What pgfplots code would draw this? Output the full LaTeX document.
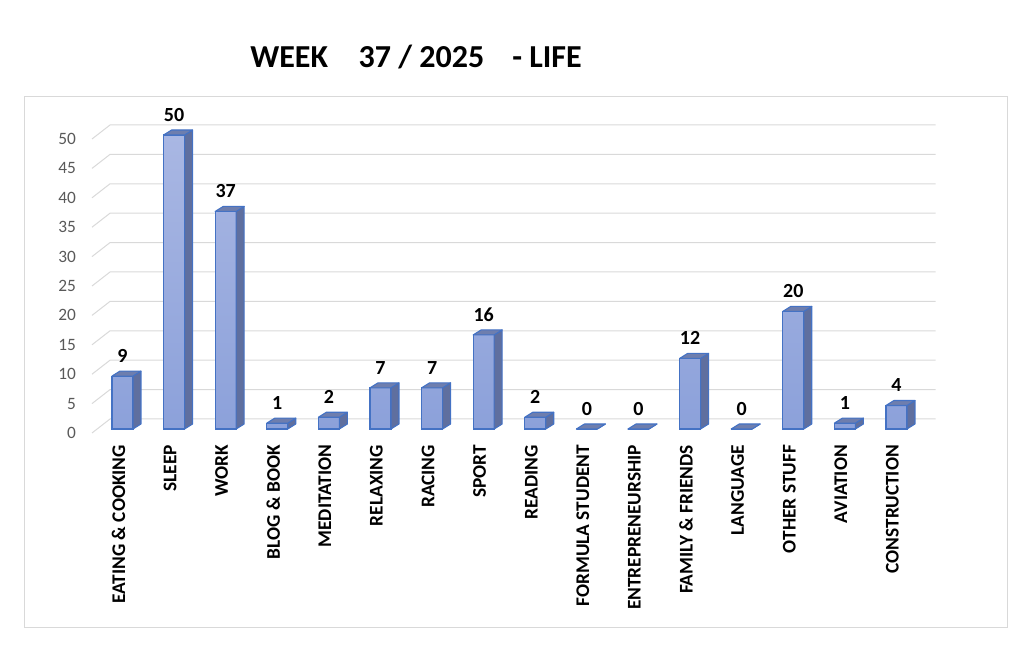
\documentclass[border=0pt]{standalone}
\usepackage{fontspec}
\setmainfont{Carlito}
\usepackage{pgfplots}
\pgfplotsset{compat=1.18}
\definecolor{gridgrey}{HTML}{D9D9D9}
\definecolor{ticklab}{HTML}{595959}
\definecolor{baredge}{HTML}{4472C4}
\definecolor{bartop}{HTML}{A9B7E3}
\definecolor{barbot}{HTML}{8CA1DA}
\definecolor{barside}{HTML}{5F6F9F}
\definecolor{barcap}{HTML}{6E7EAE}
\def\halfw{7.875pt}
\def\ddx{6pt}
\def\ddy{3.75pt}
\def\unitpt{4.41}
\pgfdeclareplotmark{cube3d}{%
  \pgfmathsetmacro\hpt{\hval*\unitpt}%
  \pgfsetlinewidth{0.8pt}%
  \pgfsetstrokecolor{baredge}%
  \pgfsetroundjoin
  \pgfsetfillcolor{barside}%
  \pgfpathmoveto{\pgfpoint{\halfw}{0pt}}%
  \pgfpathlineto{\pgfpoint{\halfw+\ddx}{\ddy}}%
  \pgfpathlineto{\pgfpoint{\halfw+\ddx}{\ddy-\hpt pt}}%
  \pgfpathlineto{\pgfpoint{\halfw}{-\hpt pt}}%
  \pgfpathclose
  \pgfusepath{fill,stroke}%
  \pgfsetfillcolor{barcap}%
  \pgfpathmoveto{\pgfpoint{-\halfw}{0pt}}%
  \pgfpathlineto{\pgfpoint{\halfw}{0pt}}%
  \pgfpathlineto{\pgfpoint{\halfw+\ddx}{\ddy}}%
  \pgfpathlineto{\pgfpoint{-\halfw+\ddx}{\ddy}}%
  \pgfpathclose
  \pgfusepath{fill,stroke}%
}
\begin{document}
\begin{tikzpicture}
\useasboundingbox (0pt,0pt) rectangle (768pt,503.25pt);
\draw[gridgrey, line width=0.75pt] (18pt,33pt) rectangle (755.25pt,430.5pt);
\node[font=\bfseries\fontsize{24}{28}\selectfont] at (312pt,460.5pt) {WEEK\hspace{23pt}37 / 2025\hspace{21pt}- LIFE};
\begin{axis}[
  at={(72.5pt,181.5pt)}, anchor=south west,
  scale only axis, width=619.2pt, height=220.5pt,
  xmin=-0.5, xmax=15.5, ymin=0, ymax=50,
  enlargelimits=false,
  clip=false,
  axis line style={draw=none},
  major tick length=0pt,
  ytick={0,5,...,50},
  xtick={0,...,15},
  xticklabels={EATING \& COOKING, SLEEP, WORK, BLOG \& BOOK, MEDITATION, RELAXING, RACING, SPORT, READING, FORMULA STUDENT, ENTREPRENEURSHIP, FAMILY \& FRIENDS, LANGUAGE, OTHER STUFF, AVIATION, CONSTRUCTION},
  yticklabel style={font=\fontsize{13}{15}\selectfont, text=ticklab, xshift=-12pt, yshift=-3pt},
  xticklabel style={font=\bfseries\fontsize{14.5}{16}\selectfont, xshift=-3pt, yshift=-8.5pt, rotate=90, anchor=east},
  /pgf/number format/assume math mode=true,
]
\pgfplotsinvokeforeach{0,5,...,50}{
  \draw[gridgrey, line width=0.75pt] ([xshift=-3.5pt,yshift=-3pt]axis cs:-0.5,#1) -- ([xshift=10pt,yshift=7.5pt]axis cs:-0.5,#1) -- ([xshift=10pt,yshift=7.5pt]axis cs:15.5,#1);
}
\addplot[ybar, bar width=15.75pt, draw=baredge, line width=0.8pt, top color=bartop, bottom color=barbot,
  nodes near coords,
  nodes near coords style={text=black, font=\bfseries\fontsize{15}{17}\selectfont, anchor=south, inner sep=0pt, yshift=9.75pt}]
  coordinates {(0,9) (1,50) (2,37) (3,1) (4,2) (5,7) (6,7) (7,16) (8,2) (9,0) (10,0) (11,12) (12,0) (13,20) (14,1) (15,4)};
\addplot[only marks, mark=cube3d, visualization depends on={rawy \as \hval}]
  coordinates {(0,9) (1,50) (2,37) (3,1) (4,2) (5,7) (6,7) (7,16) (8,2) (9,0) (10,0) (11,12) (12,0) (13,20) (14,1) (15,4)};
\end{axis}
\end{tikzpicture}
\end{document}
